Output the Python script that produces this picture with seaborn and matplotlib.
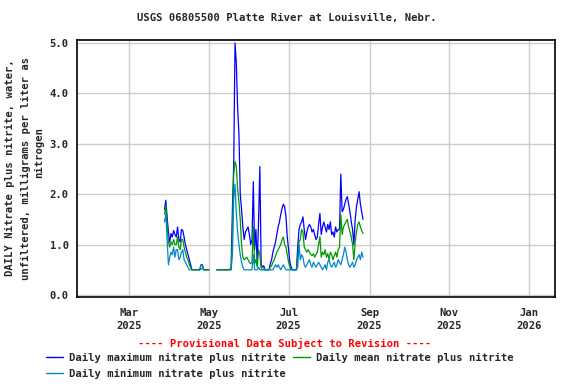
import numpy as np
import pandas as pd
import matplotlib
matplotlib.use("Agg")
import matplotlib.pyplot as plt
from matplotlib.lines import Line2D
import seaborn as sns

nan = np.nan

# daily values starting 2025-03-28, mg/L as N
start_date = "2025-03-28"

daily_max = [
    1.70, 1.88, 1.55, 1.25, 1.05, 1.22, 1.15, 1.28, 1.20, 1.15,
    1.35, 1.10, 1.05, 1.30, 1.28, 1.15, 1.00, 0.90, 0.80, 0.70,
    0.60, 0.50, 0.50, 0.50, 0.50, 0.50, 0.50, 0.50, 0.60, 0.60,
    0.50, 0.50, 0.50, 0.50, 0.50, nan, nan, nan, nan, nan,
    0.50, 0.50, 0.50, 0.50, 0.50, 0.50, 0.50, 0.50, 0.50, 0.50,
    0.50, 0.55, 1.70, 2.60, 5.00, 4.60, 3.70, 3.20, 2.00, 1.70,
    1.35, 1.10, 1.25, 1.30, 1.35, 1.20, 1.00, 1.10, 2.25, 0.90,
    1.30, 0.60, 1.45, 2.55, 0.60, 0.55, 0.58, 0.50, 0.50, 0.50,
    0.50, 0.62, 0.70, 0.85, 0.95, 1.05, 1.20, 1.35, 1.45, 1.60,
    1.72, 1.80, 1.75, 1.55, 1.15, 0.90, 0.65, 0.55, 0.50, 0.50,
    0.50, 0.50, 0.95, 1.30, 1.40, 1.45, 1.55, 1.30, 1.10, 1.25,
    1.35, 1.40, 1.35, 1.25, 1.30, 1.20, 1.10, 1.15, 1.40, 1.62,
    1.20, 1.35, 1.45, 1.35, 1.25, 1.40, 1.30, 1.45, 1.20, 1.25,
    1.15, 1.35, 1.25, 1.30, 1.30, 2.40, 1.65, 1.70, 1.80, 1.90,
    1.95, 1.80, 1.65, 1.45, 1.30, 1.00, 1.50, 1.75, 1.90, 2.05,
    1.80, 1.65, 1.50,
]

daily_mean = [
    1.60, 1.78, 1.40, 1.05, 0.95, 1.05, 1.00, 1.10, 1.00, 1.00,
    1.15, 0.95, 0.90, 1.10, 1.10, 0.95, 0.85, 0.75, 0.70, 0.60,
    0.55, 0.50, 0.50, 0.50, 0.50, 0.50, 0.50, 0.50, 0.52, 0.52,
    0.50, 0.50, 0.50, 0.50, 0.50, nan, nan, nan, nan, nan,
    0.50, 0.50, 0.50, 0.50, 0.50, 0.50, 0.50, 0.50, 0.50, 0.50,
    0.50, 0.50, 1.20, 2.40, 2.65, 2.55, 2.10, 1.85, 1.50, 1.00,
    0.75, 0.70, 0.72, 0.75, 0.70, 0.65, 0.62, 0.65, 1.35, 0.62,
    0.70, 0.55, 0.90, 0.80, 0.52, 0.50, 0.52, 0.50, 0.50, 0.50,
    0.50, 0.55, 0.58, 0.65, 0.70, 0.78, 0.85, 0.90, 0.95, 1.00,
    1.10, 1.15, 1.00, 0.95, 0.80, 0.65, 0.55, 0.50, 0.50, 0.50,
    0.50, 0.50, 0.75, 1.05, 1.10, 1.30, 1.25, 0.95, 0.90, 0.85,
    0.90, 0.85, 0.80, 0.78, 0.82, 0.75, 0.80, 0.85, 1.00, 1.16,
    0.75, 0.85, 0.80, 0.90, 0.75, 0.82, 0.70, 0.85, 0.80, 0.70,
    0.78, 0.85, 0.75, 0.90, 0.95, 1.60, 1.20, 1.35, 1.40, 1.45,
    1.50, 1.35, 1.25, 1.15, 1.00, 0.70, 1.05, 1.25, 1.40, 1.45,
    1.35, 1.28, 1.22,
]

daily_min = [
    1.45, 1.60, 1.10, 0.60, 0.75, 0.85, 0.80, 0.95, 0.75, 0.90,
    0.90, 0.70, 0.75, 0.85, 0.90, 0.70, 0.65, 0.60, 0.55, 0.50,
    0.50, nan, nan, nan, nan, nan, nan, 0.50, 0.60, 0.60,
    0.50, nan, nan, nan, nan, nan, nan, nan, nan, nan,
    nan, nan, nan, nan, nan, nan, nan, nan, nan, nan,
    nan, 0.50, 0.80, 1.90, 2.20, 1.60, 1.25, 1.00, 0.80, 0.65,
    0.55, 0.50, 0.50, 0.50, 0.50, 0.50, 0.50, 0.50, 0.80, 0.50,
    0.50, 0.50, 0.55, 0.50, 0.50, 0.50, 0.50, 0.50, 0.50, 0.50,
    0.50, 0.50, 0.50, 0.50, 0.55, 0.60, 0.55, 0.60, 0.55, 0.50,
    0.55, 0.60, 0.55, 0.50, 0.50, 0.50, 0.50, 0.50, 0.50, 0.50,
    0.50, 0.50, 0.55, 1.00, 0.70, 0.80, 0.75, 0.60, 0.55, 0.60,
    0.65, 0.70, 0.60, 0.55, 0.65, 0.60, 0.55, 0.60, 0.65, 0.60,
    0.55, 0.50, 0.55, 0.60, 0.50, 0.65, 0.70, 0.60, 0.55, 0.60,
    0.65, 0.55, 0.60, 0.70, 0.65, 0.60, 0.70, 0.80, 0.95, 0.85,
    0.70, 0.60, 0.55, 0.60, 0.65, 0.55, 0.60, 0.70, 0.75, 0.80,
    0.70, 0.85, 0.75,
]

series_names = ["Daily maximum nitrate plus nitrite",
                "Daily mean nitrate plus nitrite",
                "Daily minimum nitrate plus nitrite"]
series_colors = ["#0000ff", "#009900", "#0088cc"]

tick_dates = ["2025-03-01", "2025-05-01", "2025-07-01",
              "2025-09-01", "2025-11-01", "2026-01-01"]
tick_labels = ["Mar\n2025", "May\n2025", "Jul\n2025",
               "Sep\n2025", "Nov\n2025", "Jan\n2026"]
y_ticks = [0, 1, 2, 3, 4, 5]

dates = pd.date_range(start_date, periods=len(daily_max), freq="D")

sns.set_style("white")
plt.rcParams["font.family"] = ["DejaVu Sans Mono"]
plt.rcParams["font.weight"] = "bold"
plt.rcParams["font.size"] = 7.6

fig = plt.figure(figsize=(5.76, 3.84), dpi=100)
ax = fig.add_axes([77 / 576, 1 - 297 / 384, 478 / 576, 257 / 384])

# one line per series, broken where days are missing
for name, values, color in zip(series_names, [daily_max, daily_mean, daily_min], series_colors):
    df = pd.DataFrame({"date": dates, "value": values})
    df["piece"] = df["value"].isna().cumsum()
    df = df.dropna()
    sns.lineplot(data=df, x="date", y="value", units="piece", estimator=None,
                 color=color, linewidth=0.9, ax=ax, zorder=3)

ax.set_xlim(pd.Timestamp("2025-01-20"), pd.Timestamp("2026-01-21"))
ax.set_ylim(-0.04, 5.06)
ax.set_xticks(pd.to_datetime(tick_dates))
ax.set_xticklabels(tick_labels, linespacing=1.3)
ax.set_yticks(y_ticks)
ax.set_yticklabels(["%.1f" % v for v in y_ticks])
ax.set_xlabel("")
ax.set_ylabel("")
ax.grid(True, color="#cccccc", linewidth=1)
ax.tick_params(axis="y", length=0, pad=6, labelsize=7.6)
ax.tick_params(axis="x", length=0, pad=8, labelsize=7.6)
for s in ax.spines.values():
    s.set_color("black")
    s.set_linewidth(1.2)

fig.text(0.498, 1 - 18 / 384, "USGS 06805500 Platte River at Louisville, Nebr.",
         ha="center", va="center")

fig.text(10 / 576, 1 - 168 / 384, "DAILY Nitrate plus nitrite, water,",
         rotation=90, ha="center", va="center")
fig.text(25.5 / 576, 1 - 168 / 384, "unfiltered, milligrams per liter as",
         rotation=90, ha="center", va="center")
fig.text(39 / 576, 1 - 153 / 384, "nitrogen",
         rotation=90, ha="center", va="center")

fig.text(285 / 576, 1 - 343 / 384, "---- Provisional Data Subject to Revision ----",
         color="red", ha="center", va="center")

handles = [Line2D([], [], color=c, linewidth=1) for c in series_colors]
order = [0, 2, 1]
fig.legend([handles[i] for i in order], [series_names[i] for i in order],
           ncol=2, loc="upper left", bbox_to_anchor=(46 / 576, 1 - 353 / 384),
           frameon=False, borderpad=0, borderaxespad=0, handlelength=1.6,
           handletextpad=0.55, columnspacing=0.75, labelspacing=0.55)

fig.savefig("out.png", dpi=100)
